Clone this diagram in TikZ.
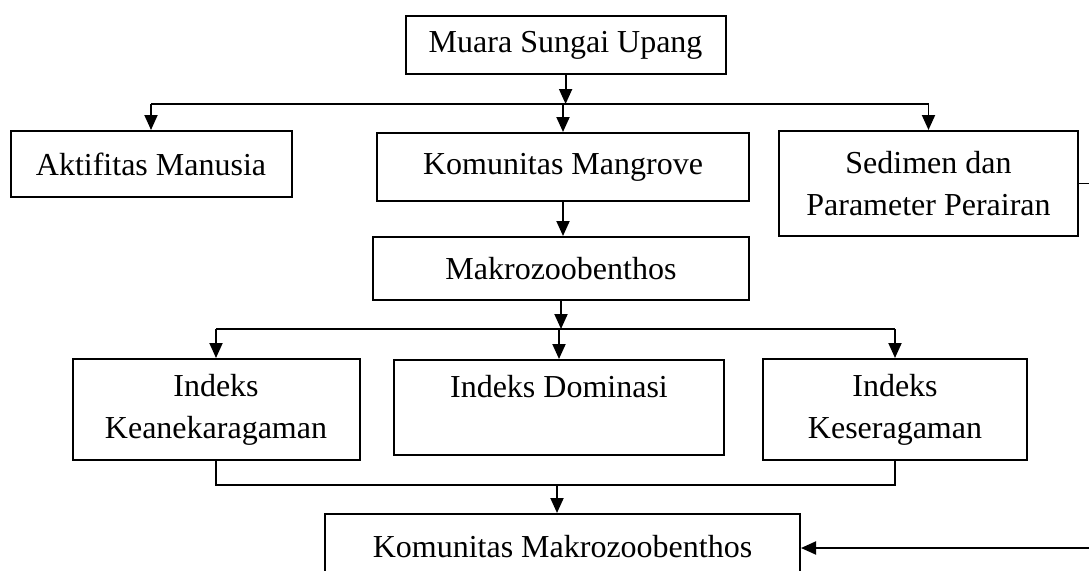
\documentclass[tikz,border=0pt]{standalone}
\usepackage{fontspec}
\setmainfont{Liberation Serif}
\usetikzlibrary{arrows.meta}

\begin{document}
\begin{tikzpicture}[x=1pt,y=-1pt,>={Triangle[width=13pt,length=15pt]},line width=1.9pt,
    kotak/.style={draw,line width=2pt,align=center,inner sep=0pt,font=\fontsize{32}{42}\selectfont}]
			\clip (0,0) rectangle (1089,570);
			% Muara
			\node[kotak,minimum width=320pt,minimum height=58pt] (muara) at (565.6,45) {Muara Sungai Upang};
			% baris kedua
			\node[kotak,minimum width=281pt,minimum height=66pt] (aktif) at (151,164) {Aktifitas Manusia};
			\node[kotak,minimum width=372pt,minimum height=68pt] (mangrove) at (563,167) {Komunitas Mangrove};
			\node[kotak,minimum width=299pt,minimum height=105pt] (sedimen) at (928.5,183.5) {Sedimen dan\\Parameter Perairan};
			% Makrozoobenthos
			\node[kotak,minimum width=376pt,minimum height=63pt] (makro) at (561,268.5) {Makrozoobenthos};
			% indeks
			\node[kotak,minimum width=287pt,minimum height=101pt] (keane) at (216,409.5) {Indeks\\Keanekaragaman};
			\node[kotak,minimum width=330pt,minimum height=95pt] (domin) at (559,407.5) {Indeks Dominasi\\~};
			\node[kotak,minimum width=264pt,minimum height=101pt] (keser) at (895,409.5) {Indeks\\Keseragaman};
			% hasil
			\node[kotak,minimum width=475pt,minimum height=66pt] (komak) at (562.5,547) {Komunitas Makrozoobenthos};
			% cabang pertama
			\coordinate (c1) at (565,104);
			\draw[->] (muara.south) -- (muara.south |- c1);
			\draw (aktif.north |- c1) -- (sedimen.north |- c1);
			\draw[->] (aktif.north |- c1) -- (aktif.north);
			\draw[->] (mangrove.north |- c1) -- (mangrove.north);
			\draw[->] (sedimen.north |- c1) -- (sedimen.north);
			\draw[->] (mangrove.south) -- (mangrove.south |- makro.north);
			% cabang kedua
			\coordinate (c2) at (560,329);
			\draw[->] (makro.south) -- (makro.south |- c2);
			\draw (keane.north |- c2) -- (keser.north |- c2);
			\draw[->] (keane.north |- c2) -- (keane.north);
			\draw[->] (domin.north |- c2) -- (domin.north);
			\draw[->] (keser.north |- c2) -- (keser.north);
			% gabungan indeks
			\coordinate (c3) at (557,485);
			\draw (keane.south) |- (c3) -| (keser.south);
			\draw[->] (c3) -- (c3 |- komak.north);
			% dari sedimen ke komunitas
			\coordinate (c4) at (1100,548);
			\draw[->] (sedimen.east) -| (c4) -- (c4 -| komak.east);
		\end{tikzpicture}
\end{document}
